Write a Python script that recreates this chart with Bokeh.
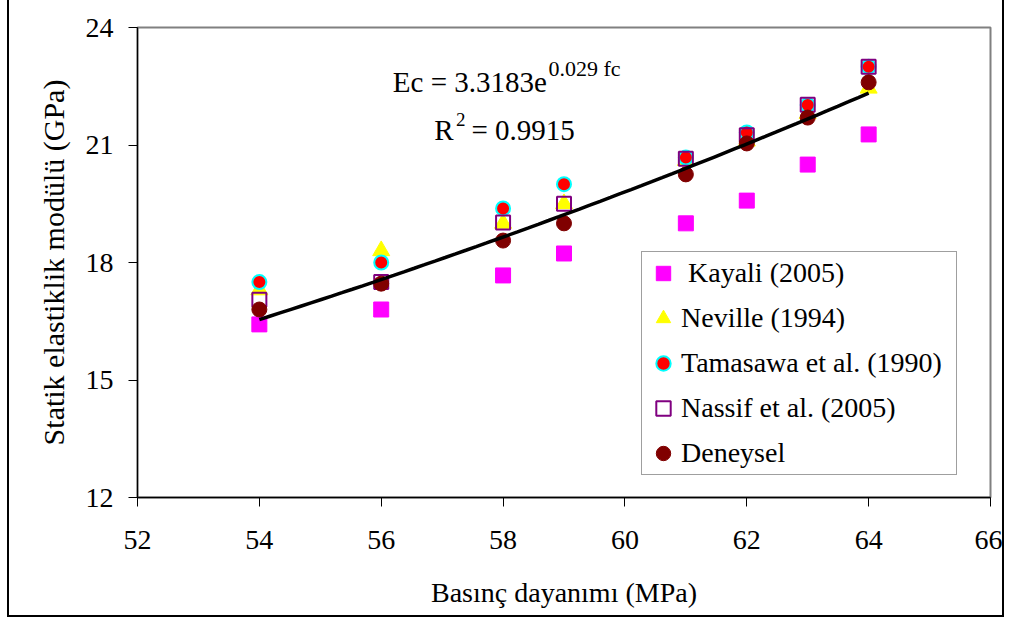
import numpy as np
from bokeh.plotting import figure
from bokeh.models import Legend, LegendItem, Label, FixedTicker
from bokeh.embed import file_html
from bokeh.resources import INLINE

# ---- data ----
fc = [54, 56, 58, 59, 61, 62, 63, 64]
kayali = [16.42, 16.80, 17.67, 18.23, 19.00, 19.58, 20.50, 21.27]
neville = [17.30, 18.30, 19.00, 19.50, 20.60, 21.10, 21.80, 22.45]
tamasawa = [17.50, 18.00, 19.38, 20.00, 20.68, 21.32, 22.02, 23.00]
nassif = [17.05, 17.50, 19.02, 19.50, 20.65, 21.25, 22.03, 23.00]
deneysel = [16.80, 17.46, 18.56, 19.00, 20.25, 21.04, 21.70, 22.60]

x_ticks = [52, 54, 56, 58, 60, 62, 64, 66]
y_ticks = [12, 15, 18, 21, 24]

FONT = "Liberation Serif"

p = figure(width=997, height=617, x_range=(52, 66), y_range=(12, 24),
           output_backend="svg", toolbar_location=None,
           min_border_left=128, min_border_right=16,
           min_border_top=27, min_border_bottom=120)
p.styles = {"margin-left": "7px", "border-left": "2px solid black",
            "border-right": "2px solid black", "border-bottom": "2px solid black"}

p.background_fill_color = "white"
p.border_fill_color = "white"
p.outline_line_color = "#808080"
p.outline_line_width = 2
p.xgrid.visible = False
p.ygrid.visible = False

for ax in (p.xaxis[0], p.yaxis[0]):
    ax.axis_line_color = "black"
    ax.axis_line_width = 1.3
    ax.major_tick_line_color = "black"
    ax.major_tick_out = 9
    ax.major_tick_in = 0
    ax.minor_tick_line_color = None
    ax.major_label_text_font = FONT
    ax.major_label_text_font_size = "28px"
    ax.major_label_text_color = "black"
    ax.axis_label_text_font = FONT
    ax.axis_label_text_font_size = "28px"
    ax.axis_label_text_font_style = "normal"
    ax.axis_label_text_color = "black"

p.yaxis[0].axis_label_text_font_size = "30px"
p.xaxis[0].ticker = FixedTicker(ticks=x_ticks)
p.yaxis[0].ticker = FixedTicker(ticks=y_ticks)
p.xaxis[0].major_label_standoff = 24
p.yaxis[0].major_label_standoff = 15
p.xaxis[0].axis_label_standoff = 25
p.yaxis[0].axis_label_standoff = 13
p.xaxis[0].axis_label = "Basınç dayanımı (MPa)"
p.yaxis[0].axis_label = "Statik elastiklik modülü (GPa)"

r_k = p.scatter(fc, kayali, marker="square", size=15, fill_color="#FF00FF",
                line_color="#FF00FF")
r_n = p.scatter(fc, neville, marker="triangle", size=17, fill_color="#FFFF00",
                line_color="#FFFF00")
r_t = p.scatter(fc, tamasawa, marker="circle", size=14, fill_color="#FF0000",
                line_color="#00FFFF", line_width=2)
r_s = p.scatter(fc, nassif, marker="square", size=14, fill_color=None,
                line_color="#800080", line_width=2)
r_d = p.scatter(fc, deneysel, marker="circle", size=15, fill_color="#800000",
                line_color="#800000")

# exponential trend line fitted to the experimental data
b, ln_a = np.polyfit(np.array(fc, float), np.log(np.array(deneysel)), 1)
tx = np.linspace(min(fc), max(fc), 60)
ty = np.exp(ln_a) * np.exp(b * tx)
p.line(tx, ty, line_color="black", line_width=3.5)

legend = Legend(items=[
    LegendItem(label=" Kayali (2005)", renderers=[r_k]),
    LegendItem(label="Neville (1994)", renderers=[r_n]),
    LegendItem(label="Tamasawa et al. (1990)", renderers=[r_t]),
    LegendItem(label="Nassif et al. (2005)", renderers=[r_s]),
    LegendItem(label="Deneysel", renderers=[r_d]),
], location=(504, 22))
legend.label_text_font = FONT
legend.label_text_font_size = "28px"
legend.label_text_color = "black"
legend.label_height = 36
legend.label_width = 272
legend.glyph_height = 36
legend.glyph_width = 36
legend.label_standoff = 0
legend.spacing = 9
legend.padding = 3
legend.margin = 0
legend.border_line_color = "#404040"
legend.border_line_width = 1.5
legend.background_fill_color = "white"
legend.background_fill_alpha = 1
p.add_layout(legend)

# equation annotation
def lab(x, y, t, size):
    p.add_layout(Label(x=x, y=y, text=t, text_font=FONT, text_color="black",
                       text_font_size=size, text_baseline="alphabetic"))

lab(56.19, 22.62, "Ec = 3.3183e", "29px")
lab(58.745, 22.95, "0.029 fc", "22px")
lab(56.87, 21.39, "R", "29px")
lab(57.229, 21.65, "2", "19px")
lab(57.48, 21.39, "= 0.9915", "29px")

open("out.html", "w").write(file_html(p, INLINE))
